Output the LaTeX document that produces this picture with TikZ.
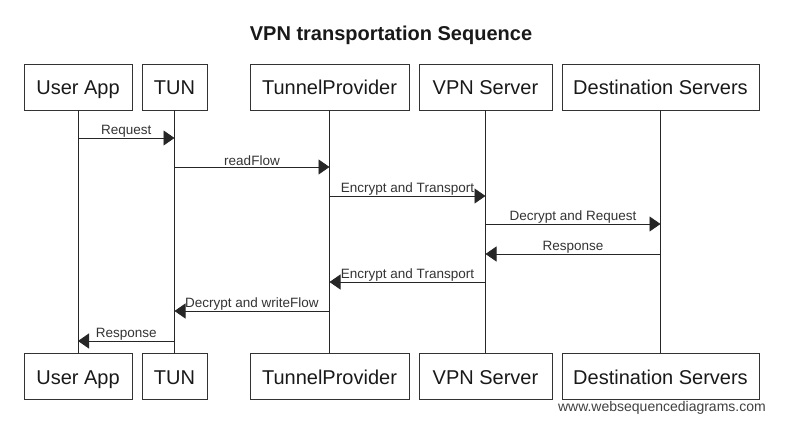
\documentclass[tikz,border=0pt]{standalone}
\usepackage{fontspec}
\setmainfont{Liberation Sans}
\usetikzlibrary{arrows.meta}
\tikzset{
  actor/.style={draw=black!80, line width=0.9pt, rectangle, minimum height=46pt, inner sep=0pt, text height=18pt, text depth=2pt, font=\fontsize{20}{24}\selectfont, text=black!90},
  life/.style={draw=black!85, line width=0.9pt},
  msg/.style={draw=black!85, line width=0.9pt, -{Triangle[length=11pt,width=15pt]}},
  lbl/.style={font=\fontsize{13.5}{15}\selectfont, text=black!80, inner sep=0.5pt, above}
}
\begin{document}
\begin{tikzpicture}[x=1pt,y=-1pt]
\useasboundingbox (0,0) rectangle (787,430);
\node[font=\bfseries\fontsize{20}{24}\selectfont, text=black!90, anchor=base] (title) at (391,41) {VPN transportation Sequence};
% top actors
\node[actor, minimum width=108pt] (ua) at (78,87) {User App};
\node[actor, minimum width=65pt] (tun) at (174.5,87) {TUN};
\node[actor, minimum width=159pt] (tp) at (329.5,87) {TunnelProvider};
\node[actor, minimum width=133pt] (vpn) at (485.5,87) {VPN Server};
\node[actor, minimum width=197pt] (ds) at (660.5,87) {Destination Servers};
% bottom actors
\node[actor, minimum width=108pt] (ub) at (78,376) {User App};
\node[actor, minimum width=65pt] (tunb) at (174.5,376) {TUN};
\node[actor, minimum width=159pt] (tpb) at (329.5,376) {TunnelProvider};
\node[actor, minimum width=133pt] (vpnb) at (485.5,376) {VPN Server};
\node[actor, minimum width=197pt] (dsb) at (660.5,376) {Destination Servers};
% lifelines
\draw[life] (ua.south) -- (ub.north);
\draw[life] (tun.south) -- (tunb.north);
\draw[life] (tp.south) -- (tpb.north);
\draw[life] (vpn.south) -- (vpnb.north);
\draw[life] (ds.south) -- (dsb.north);
% messages
\draw[msg] (ua.south |- 0,138) -- node[lbl] {Request} (tun.south |- 0,138);
\draw[msg] (tun.south |- 0,167) -- node[lbl] {readFlow} (tp.south |- 0,167);
\draw[msg] (tp.south |- 0,196) -- node[lbl] {Encrypt and Transport} (vpn.south |- 0,196);
\draw[msg] (vpn.south |- 0,224) -- node[lbl] {Decrypt and Request} (ds.south |- 0,224);
\draw[msg] (ds.south |- 0,254) -- node[lbl] {Response} (vpn.south |- 0,254);
\draw[msg] (vpn.south |- 0,282) -- node[lbl] {Encrypt and Transport} (tp.south |- 0,282);
\draw[msg] (tp.south |- 0,311) -- node[lbl] {Decrypt and writeFlow} (tun.south |- 0,311);
\draw[msg] (tun.south |- 0,341) -- node[lbl] {Response} (ua.south |- 0,341);
% watermark
\node[font=\fontsize{14}{16}\selectfont, text=black!75, anchor=east, inner sep=0pt] (wm) at (766,408) {www.websequencediagrams.com};
\end{tikzpicture}
\end{document}
